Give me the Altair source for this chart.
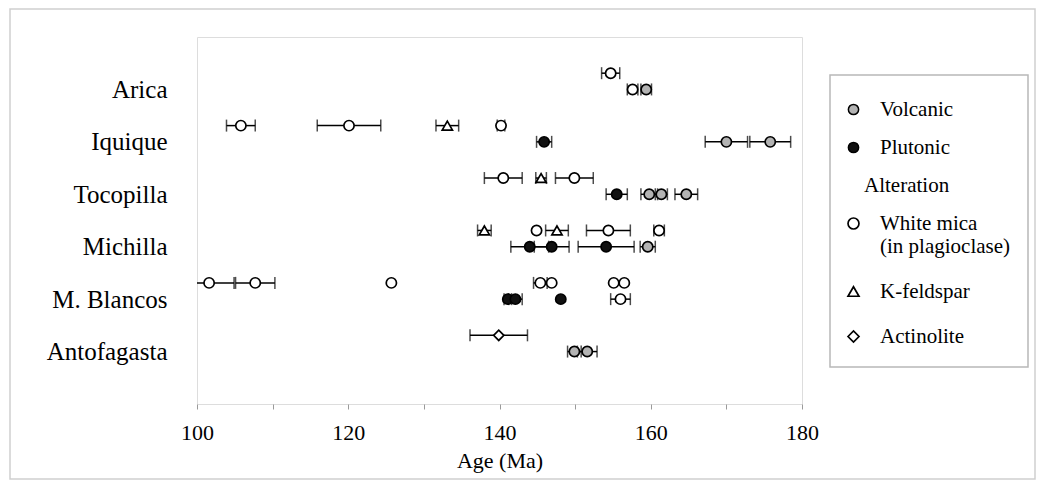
import json
import altair as alt
import pandas as pd

# ---------------- data ----------------
locations = ["Arica", "Iquique", "Tocopilla", "Michilla", "M. Blancos", "Antofagasta"]

site = (["Arica"] * 3 + ["Iquique"] * 7 + ["Tocopilla"] * 7 + ["Michilla"] * 9
        + ["M. Blancos"] * 11 + ["Antofagasta"] * 3)

# "upper" = upper line of a locality, "lower" = lower line
line = (
    ["upper", "lower", "lower"]
    + ["upper", "upper", "upper", "upper", "lower", "lower", "lower"]
    + ["upper", "upper", "upper", "lower", "lower", "lower", "lower"]
    + ["upper", "upper", "upper", "upper", "upper", "lower", "lower", "lower", "lower"]
    + ["upper"] * 7 + ["lower"] * 4
    + ["upper", "lower", "lower"]
)

material = (
    ["White mica", "White mica", "Volcanic"]
    + ["White mica", "White mica", "K-feldspar", "White mica", "Plutonic", "Volcanic", "Volcanic"]
    + ["White mica", "K-feldspar", "White mica", "Plutonic", "Volcanic", "Volcanic", "Volcanic"]
    + ["K-feldspar", "White mica", "K-feldspar", "White mica", "White mica",
       "Plutonic", "Plutonic", "Plutonic", "Volcanic"]
    + ["White mica"] * 7 + ["Plutonic", "Plutonic", "Plutonic", "White mica"]
    + ["Actinolite", "Volcanic", "Volcanic"]
)

age = (
    [154.7, 157.6, 159.4]
    + [105.8, 120.1, 133.1, 140.2, 145.9, 170.0, 175.8]
    + [140.5, 145.5, 149.9, 155.5, 159.8, 161.4, 164.7]
    + [138.0, 144.9, 147.6, 154.4, 161.1, 144.0, 146.9, 154.1, 159.6]
    + [101.6, 107.7, 125.7, 145.4, 146.9, 155.1, 156.5, 141.1, 142.1, 148.1, 156.0]
    + [139.9, 149.9, 151.6]
)

err = (
    [1.2, 0.7, 0.7]
    + [1.9, 4.2, 1.5, 0.5, 1.0, 2.8, 2.7]
    + [2.5, 0.7, 2.5, 1.4, 1.1, 0.8, 1.5]
    + [0.9, 0.0, 1.5, 2.9, 0.7, 2.5, 2.3, 3.7, 1.0]
    + [3.3, 2.6, 0.0, 0.9, 0.0, 0.0, 0.0, 0.5, 0.9, 0.0, 1.3]
    + [3.8, 0.9, 1.3]
)

rock_types = ["Volcanic", "Plutonic", "Alteration"]
rock_fills = ["#b3b3b3", "#111111", "white"]
minerals = ["Whole rock", "White mica", "K-feldspar", "Actinolite"]
mineral_shapes = ["circle", "circle", "triangle-up", "diamond"]
materials = ["Volcanic", "Plutonic", "White mica", "K-feldspar", "Actinolite"]
material_sizes = [105, 105, 105, 135, 150]

df = pd.DataFrame({"site": site, "line": line, "material": material, "age": age, "err": err})
df["rock"] = [m if m in ("Volcanic", "Plutonic") else "Alteration" for m in df["material"]]
df["mineral"] = [m if m not in ("Volcanic", "Plutonic") else "Whole rock" for m in df["material"]]
df["slot"] = [locations.index(s) + 1 - (0.31 if l == "upper" else 0.0)
              for s, l in zip(df["site"], df["line"])]

FONT = "Liberation Serif"
xscale = alt.Scale(domain=[100, 180], nice=False, zero=False)
yscale = alt.Scale(domain=[0, 7], reverse=True, nice=False, zero=False)

label_expr = json.dumps(locations) + "[datum.value - 1]"

base = alt.Chart(df)
bars = base.transform_filter("datum.err > 0").transform_calculate(
    lo="datum.age - datum.err", hi="datum.age + datum.err"
)

err_lines = bars.mark_rule(color="black", strokeWidth=1.5, clip=True).encode(
    x=alt.X("lo:Q", scale=xscale,
            axis=alt.Axis(title="Age (Ma)", values=list(range(100, 181, 10)),
                          labelExpr="datum.value % 20 == 0 ? datum.label : ''",
                          grid=False, domain=False, tickSize=5, tickColor="#9a9a9a",
                          tickWidth=1, labelPadding=13, labelFontSize=22,
                          labelFlush=False,
                          labelFont=FONT, labelColor="black", titleFont=FONT,
                          titleFontSize=22, titleFontWeight="normal",
                          titleColor="black", titlePadding=7)),
    x2="hi:Q",
    y=alt.Y("slot:Q", scale=yscale,
            axis=alt.Axis(title=None, values=[1, 2, 3, 4, 5, 6], labelExpr=label_expr,
                          grid=False, domain=False, ticks=False, labelPadding=30,
                          labelFontSize=25, labelFont=FONT, labelColor="black")),
)

cap_lo = bars.mark_tick(orient="vertical", color="black", thickness=1.5, size=12,
                        clip=True).encode(x="lo:Q", y="slot:Q")
cap_hi = bars.mark_tick(orient="vertical", color="black", thickness=1.5, size=12,
                        clip=True).encode(x="hi:Q", y="slot:Q")

points = base.mark_point(filled=True, opacity=1, stroke="black", strokeWidth=1.7).encode(
    x="age:Q",
    y="slot:Q",
    fill=alt.Fill("rock:N", scale=alt.Scale(domain=rock_types, range=rock_fills),
                  legend=alt.Legend(title=None, values=["Volcanic", "Plutonic"],
                                    orient="none", legendX=646, legendY=62,
                                    symbolType="circle", symbolSize=105,
                                    symbolStrokeColor="black", symbolStrokeWidth=1.5,
                                    labelFont=FONT, labelFontSize=21, labelColor="black",
                                    labelOffset=16, rowPadding=16, padding=0)),
    shape=alt.Shape("mineral:N", scale=alt.Scale(domain=minerals, range=mineral_shapes),
                    legend=alt.Legend(title="\u200b\u00a0\u00a0\u00a0\u00a0Alteration",
                                      values=["White mica", "K-feldspar", "Actinolite"],
                                      orient="none", legendX=646, legendY=138,
                                      symbolSize=120, symbolFillColor="white",
                                      symbolStrokeColor="black", symbolStrokeWidth=1.7,
                                      labelFont=FONT, labelFontSize=21, labelColor="black",
                                      labelExpr="datum.label == 'White mica' ? ['White mica', '(in plagioclase)'] : datum.label",
                                      labelOffset=16, rowPadding=23, padding=0,
                                      titleFont=FONT, titleFontSize=21,
                                      titleFontWeight="normal", titleColor="black",
                                      titlePadding=17)),
    size=alt.Size("material:N", scale=alt.Scale(domain=materials, range=material_sizes),
                  legend=None),
)

box = pd.DataFrame({"k": [0]})
legend_box = alt.Chart(box).mark_rect(fillOpacity=0, stroke="#b8b8b8", strokeWidth=1.5).encode(
    x=alt.value(633), x2=alt.value(831), y=alt.value(38), y2=alt.value(330)
)
outer_box = alt.Chart(box).mark_rect(fillOpacity=0, stroke="#cfcfcf", strokeWidth=1.5).encode(
    x=alt.value(-187), x2=alt.value(838), y=alt.value(-28), y2=alt.value(442)
)

chart = alt.layer(outer_box, legend_box, err_lines, cap_lo, cap_hi, points).properties(
    width=605, height=367,
    autosize=alt.AutoSizeParams(type="none"),
    padding={"left": 189, "top": 29, "right": 235, "bottom": 76},
).configure_view(stroke="#bdbdbd", strokeWidth=1.5).configure(
    font=FONT, background="white"
)

chart.save("out.html", embed_options={"renderer": "svg", "actions": False})
